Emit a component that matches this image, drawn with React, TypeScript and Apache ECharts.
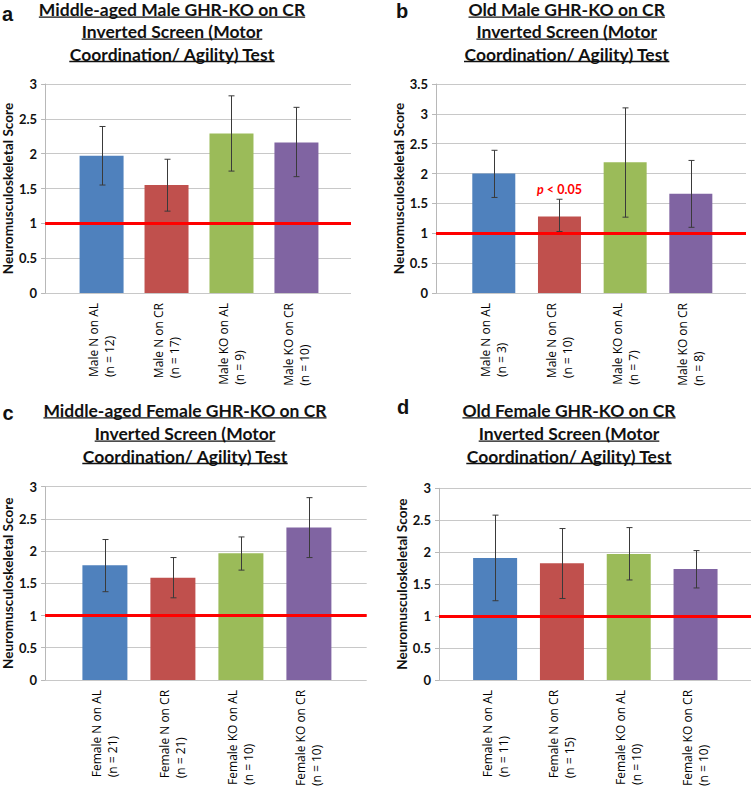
import React, { useEffect, useRef } from "react";
import * as echarts from "echarts";

// ---------- data ----------
const catsA = ["Male N on AL\n(n = 12)", "Male N on CR\n(n = 17)", "Male KO on AL\n(n = 9)", "Male KO on CR\n(n = 10)"];
const meanA = [1.97, 1.55, 2.29, 2.16];
const lowA = [1.55, 1.175, 1.75, 1.67];
const highA = [2.39, 1.92, 2.83, 2.665];

const catsB = ["Male N on AL\n(n = 3)", "Male N on CR\n(n = 10)", "Male KO on AL\n(n = 7)", "Male KO on CR\n(n = 8)"];
const meanB = [2.0, 1.28, 2.19, 1.66];
const lowB = [1.6, 1.03, 1.27, 1.1];
const highB = [2.39, 1.57, 3.1, 2.22];

const catsC = ["Female N on AL\n(n = 21)", "Female N on CR\n(n = 21)", "Female KO on AL\n(n = 10)", "Female KO on CR\n(n = 10)"];
const meanC = [1.78, 1.585, 1.965, 2.365];
const lowC = [1.37, 1.275, 1.705, 1.9];
const highC = [2.18, 1.9, 2.22, 2.83];

const catsD = ["Female N on AL\n(n = 11)", "Female N on CR\n(n = 15)", "Female KO on AL\n(n = 10)", "Female KO on CR\n(n = 10)"];
const meanD = [1.91, 1.825, 1.97, 1.735];
const lowD = [1.24, 1.275, 1.565, 1.44];
const highD = [2.58, 2.37, 2.385, 2.025];

const titleA = ["Middle-aged Male GHR-KO on CR", "Inverted Screen (Motor", "Coordination/ Agility) Test"];
const titleB = ["Old Male GHR-KO on CR", "Inverted Screen (Motor", "Coordination/ Agility) Test"];
const titleC = ["Middle-aged Female GHR-KO on CR", "Inverted Screen (Motor", "Coordination/ Agility) Test"];
const titleD = ["Old Female GHR-KO on CR", "Inverted Screen (Motor", "Coordination/ Agility) Test"];

const yAxisTitle = "Neuromusculoskeletal Score";
const yMaxes = [3, 3.5, 3, 3];
const referenceLevel = 1;
const pLabelText = "p < 0.05";
const pLabelAt = [1, 1.73];

const barColors = ["#4F81BD", "#C0504D", "#9BBB59", "#8064A2"];

// ---------- layout ----------
const FONT = "Lato";
const LABEL_FONT = "Open Sans";
const panels = [
  { letter: "a", cats: catsA, mean: meanA, low: lowA, high: highA, title: titleA,
    grid: { left: 43, top: 84, width: 308, height: 209 }, xMin: -0.87, xMax: 3.84, barW: 44,
    titleX: 172, titleY: [9.6, 31.6, 54], letterPos: [7.5, 13.5] },
  { letter: "b", cats: catsB, mean: meanB, low: lowB, high: highB, title: titleB,
    grid: { left: 436, top: 84, width: 310, height: 209 }, xMin: -0.88, xMax: 3.84, barW: 43,
    titleX: 566.7, titleY: [9.6, 31.6, 54], letterPos: [402, 11] },
  { letter: "c", cats: catsC, mean: meanC, low: lowC, high: highC, title: titleC,
    grid: { left: 43, top: 486.7, width: 323.7, height: 203.3 }, xMin: -0.88, xMax: 3.85, barW: 45,
    titleX: 185, titleY: [410.4, 433.7, 456], letterPos: [8, 413] },
  { letter: "d", cats: catsD, mean: meanD, low: lowD, high: highD, title: titleD,
    grid: { left: 439, top: 488.3, width: 312, height: 200 }, xMin: -0.84, xMax: 3.83, barW: 44,
    titleX: 569, titleY: [410.4, 433.7, 456], letterPos: [403, 407] },
];

const TITLE_SIZE = 17.5;

function measure(text: string, font: string): number {
  const c = document.createElement("canvas").getContext("2d");
  if (!c) return text.length * 8;
  c.font = font;
  return c.measureText(text).width;
}

export default function App() {
  const ref = useRef<HTMLDivElement>(null);
  useEffect(() => {
    if (!ref.current) return;
    const chart = echarts.init(ref.current, null, { renderer: "svg" });

    const grids: any[] = [];
    const xAxes: any[] = [];
    const yAxes: any[] = [];
    const series: any[] = [];
    const graphics: any[] = [];

    panels.forEach((p, k) => {
      grids.push({ ...p.grid, containLabel: false });
      xAxes.push({
        type: "value", gridIndex: k, min: p.xMin, max: p.xMax,
        splitLine: { show: false }, axisLine: { show: false }, axisTick: { show: false },
        axisLabel: {
          customValues: [0, 1, 2, 3], rotate: 90, margin: 10,
          formatter: (v: number) => {
            const parts = p.cats[Math.round(v)].split("\n");
            return parts.map((s) => `{l|${s}}`).join("\n");
          },
          rich: { l: { align: "left", fontSize: 12, fontFamily: LABEL_FONT, color: "#000", lineHeight: 16 } },
        },
      });
      yAxes.push({
        type: "value", gridIndex: k, min: 0, max: yMaxes[k], interval: 0.5,
        name: yAxisTitle, nameLocation: "middle", nameGap: 29,
        nameTextStyle: { fontFamily: FONT, fontWeight: "bold", fontSize: 13.6, color: "#111" },
        axisLine: { show: true, onZero: false, lineStyle: { color: "#b8b8b8", width: 1 } },
        axisTick: { show: true, length: 4, lineStyle: { color: "#b8b8b8" } },
        splitLine: { show: true, lineStyle: { color: "#c8c8c8", width: 1 } },
        axisLabel: { fontFamily: FONT, fontWeight: "bold", fontSize: 13, color: "#111", margin: 8 },
      });
      const barSeries: any = {
        type: "bar", xAxisIndex: k, yAxisIndex: k, barWidth: p.barW,
        data: p.mean.map((v, i) => ({ value: [i, v], itemStyle: { color: barColors[i] } })),
        markLine: {
          silent: true, symbol: "none", label: { show: false },
          lineStyle: { color: "#ff0000", width: 3, type: "solid" },
          data: [{ yAxis: referenceLevel }],
        },
        z: 2,
      };
      if (k === 1) {
        barSeries.markPoint = {
          silent: true, symbol: "rect", symbolSize: 0,
          label: {
            show: true, position: "inside",
            formatter: () => `{i|p}{n|${pLabelText.slice(1)}}`,
            rich: {
              i: { fontStyle: "italic", fontWeight: "bold", fontSize: 12.5, color: "#ff0000", fontFamily: FONT },
              n: { fontWeight: "bold", fontSize: 12.5, color: "#ff0000", fontFamily: FONT },
            },
          },
          data: [{ coord: pLabelAt }],
        };
      }
      series.push(barSeries);
      series.push({
        type: "custom", xAxisIndex: k, yAxisIndex: k, z: 5,
        data: p.mean.map((_, i) => [i, p.low[i], p.high[i]]),
        encode: { x: 0, y: [1, 2] },
        renderItem: (params: any, api: any) => {
          const x = api.value(0);
          const a = api.coord([x, api.value(2)]);
          const b = api.coord([x, api.value(1)]);
          const cx = Math.round(a[0]) + 0.5;
          const st = { stroke: "#3a3a3a", lineWidth: 1 };
          return {
            type: "group",
            children: [
              { type: "line", shape: { x1: cx, y1: a[1], x2: cx, y2: b[1] }, style: st },
              { type: "line", shape: { x1: cx - 3, y1: a[1], x2: cx + 3, y2: a[1] }, style: st },
              { type: "line", shape: { x1: cx - 3, y1: b[1], x2: cx + 3, y2: b[1] }, style: st },
            ],
          };
        },
      });

      // titles with underline
      p.title.forEach((line, j) => {
        const font = `bold ${TITLE_SIZE}px ${FONT}`;
        const w = measure(line, font);
        graphics.push({
          type: "text", x: p.titleX, y: p.titleY[j],
          style: { text: line, font, fill: "#111", align: "center", verticalAlign: "middle", lineHeight: 16 },
        });
        const uy = p.titleY[j] + 7.5;
        graphics.push({
          type: "line", shape: { x1: p.titleX - w / 2, y1: uy, x2: p.titleX + w / 2, y2: uy },
          style: { stroke: "#111", lineWidth: 1.3 },
        });
      });
      graphics.push({
        type: "text", x: p.letterPos[0], y: p.letterPos[1],
        style: { text: p.letter, font: `bold 20px "Liberation Sans"`, fill: "#111", align: "center", verticalAlign: "middle" },
      });
    });

    chart.setOption({
      animation: false,
      backgroundColor: "#ffffff",
      grid: grids,
      xAxis: xAxes,
      yAxis: yAxes,
      series,
      graphic: graphics,
    });
    return () => chart.dispose();
  }, []);

  return (
    <div
      ref={ref}
      style={{ position: "absolute", left: 0, top: 0, width: 756, height: 789 }}
    />
  );
}
